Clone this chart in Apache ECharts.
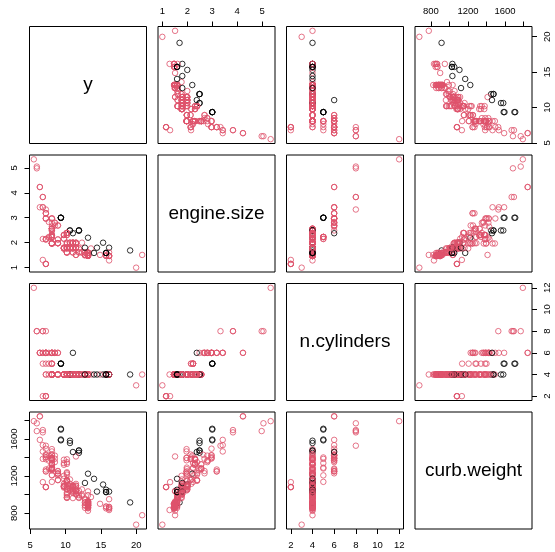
<!DOCTYPE html>
<html>
<head>
<meta charset="utf-8">
<script src="https://cdn.jsdelivr.net/npm/echarts@6/dist/echarts.min.js"></script>
<style>
html, body { margin: 0; padding: 0; background: #fff; }
#chart { width: 555px; height: 552px; }
</style>
</head>
<body>
<div id="chart"></div>
<script>
// variable names shown on the diagonal
const varNames = ['y', 'engine.size', 'n.cylinders', 'curb.weight'];

// y (km per litre)
const y = [
    8.93, 8.93, 8.08, 10.20, 7.65, 8.08, 8.08, 8.08, 7.23, 6.80,
    9.78, 9.78, 8.93, 8.93, 8.50, 6.80, 6.80, 6.38, 19.98, 16.16,
    16.16, 15.73, 13.18, 10.20, 13.18, 13.18, 13.18, 10.20, 10.20, 8.08,
    20.83, 13.18, 16.16, 12.75, 12.75, 12.75, 12.75, 11.48, 11.48, 11.48,
    11.48, 10.20, 10.63, 10.20, 16.16, 16.16, 10.20, 6.38, 6.38, 5.53,
    12.75, 13.18, 13.18, 13.18, 13.18, 7.23, 7.23, 7.23, 6.80, 11.05,
    11.05, 11.05, 11.05, 15.31, 11.05, 8.08, 13.18, 9.35, 9.35, 9.35,
    9.35, 6.80, 6.80, 5.95, 5.95, 8.08, 15.73, 13.18, 13.18, 10.20,
    9.78, 10.63, 8.08, 8.08, 8.08, 10.63, 10.63, 9.78, 9.78, 13.18,
    19.13, 13.18, 13.18, 13.18, 13.18, 13.18, 13.18, 13.18, 13.18, 11.48,
    11.48, 7.23, 7.23, 8.08, 8.08, 7.23, 8.08, 8.08, 11.90, 8.08,
    10.63, 8.08, 11.90, 8.08, 10.63, 8.08, 11.90, 7.65, 15.73, 10.20,
    13.18, 13.18, 13.18, 10.20, 8.08, 8.08, 7.23, 7.23, 7.23, 7.23,
    9.78, 9.78, 8.93, 8.93, 8.93, 8.93, 8.08, 8.08, 13.18, 11.05,
    11.05, 13.60, 11.90, 11.05, 10.20, 10.20, 11.90, 10.63, 9.78, 9.78,
    14.88, 13.18, 13.18, 13.18, 11.48, 11.48, 12.75, 12.75, 14.45, 16.16,
    16.16, 11.90, 11.90, 12.33, 12.33, 11.05, 11.05, 10.20, 10.20, 10.20,
    10.20, 10.20, 10.20, 12.33, 12.75, 11.48, 11.48, 11.48, 8.50, 8.08,
    8.50, 8.08, 15.73, 11.48, 15.73, 11.48, 11.48, 15.73, 11.05, 10.20,
    10.20, 8.08, 14.03, 10.63, 9.78, 9.78, 10.20, 10.20, 7.23, 7.23,
    9.78, 8.08, 7.65, 11.05, 8.08
];

// engine size (litres)
const engineSize = [
    2.13, 2.13, 2.49, 1.79, 2.23, 2.23, 2.23, 2.23, 2.15, 2.15,
    1.77, 1.77, 2.69, 2.69, 2.69, 3.42, 3.42, 3.42, 1.00, 1.47,
    1.47, 1.47, 1.47, 1.61, 1.47, 1.47, 1.47, 1.61, 2.00, 2.56,
    1.51, 1.51, 1.29, 1.51, 1.51, 1.51, 1.51, 1.80, 1.80, 1.80,
    1.80, 1.80, 1.80, 1.82, 1.47, 1.47, 1.95, 4.23, 4.23, 5.34,
    1.49, 1.49, 1.49, 1.49, 1.49, 1.15, 1.15, 1.15, 1.31, 2.00,
    2.00, 2.00, 2.00, 2.00, 2.00, 2.29, 2.20, 3.00, 3.00, 3.00,
    3.00, 3.83, 3.83, 5.05, 4.98, 2.29, 1.51, 1.51, 1.51, 1.61,
    1.80, 2.00, 2.56, 2.56, 2.56, 2.00, 2.00, 1.80, 1.80, 1.59,
    1.69, 1.59, 1.59, 1.59, 1.59, 1.59, 1.59, 1.59, 1.59, 1.97,
    1.97, 2.97, 2.97, 2.97, 2.97, 2.97, 2.97, 1.97, 2.49, 1.97,
    2.49, 1.97, 2.49, 1.97, 2.49, 1.97, 2.49, 2.20, 1.47, 1.61,
    1.47, 1.47, 1.61, 2.00, 2.56, 2.47, 3.18, 3.18, 3.18, 3.33,
    2.16, 2.16, 1.98, 1.98, 1.98, 1.98, 1.98, 1.98, 1.59, 1.77,
    1.77, 1.77, 1.77, 1.77, 1.77, 1.77, 1.77, 1.77, 1.77, 1.77,
    1.51, 1.51, 1.51, 1.51, 1.51, 1.51, 1.61, 1.61, 1.80, 1.80,
    1.61, 1.61, 1.61, 1.61, 1.61, 1.61, 1.61, 2.39, 2.39, 2.39,
    2.39, 2.39, 2.39, 2.00, 1.80, 2.00, 2.00, 2.00, 2.80, 2.80,
    2.80, 2.64, 1.59, 1.79, 1.59, 1.79, 1.79, 1.59, 1.79, 1.79,
    1.79, 2.23, 1.59, 1.79, 2.31, 2.31, 2.31, 2.31, 2.13, 2.13,
    2.31, 2.31, 2.83, 2.38, 2.31
];

const nCylinders = [
    4, 4, 6, 4, 5, 5, 5, 5, 5, 5,
    4, 4, 6, 6, 6, 6, 6, 6, 3, 4,
    4, 4, 4, 4, 4, 4, 4, 4, 4, 4,
    4, 4, 4, 4, 4, 4, 4, 4, 4, 4,
    4, 4, 4, 4, 4, 4, 4, 6, 6, 12,
    4, 4, 4, 4, 4, 2, 2, 2, 2, 4,
    4, 4, 4, 4, 4, 4, 4, 5, 5, 5,
    5, 8, 8, 8, 8, 4, 4, 4, 4, 4,
    4, 4, 4, 4, 4, 4, 4, 4, 4, 4,
    4, 4, 4, 4, 4, 4, 4, 4, 4, 4,
    4, 6, 6, 6, 6, 6, 6, 4, 4, 4,
    4, 4, 4, 4, 4, 4, 4, 4, 4, 4,
    4, 4, 4, 4, 4, 4, 6, 6, 6, 8,
    4, 4, 4, 4, 4, 4, 4, 4, 4, 4,
    4, 4, 4, 4, 4, 4, 4, 4, 4, 4,
    4, 4, 4, 4, 4, 4, 4, 4, 4, 4,
    4, 4, 4, 4, 4, 4, 4, 4, 4, 4,
    4, 4, 4, 4, 4, 4, 4, 4, 6, 6,
    6, 6, 4, 4, 4, 4, 4, 4, 4, 4,
    4, 5, 4, 4, 4, 4, 4, 4, 4, 4,
    4, 4, 6, 6, 4
];

// curb weight (kg)
const curbWeight = [
    1156, 1156, 1280, 1060, 1281, 1137, 1290, 1340, 1400, 1385,
    1086, 1086, 1229, 1254, 1386, 1465, 1533, 1590, 675, 850,
    866, 851, 851, 965, 892, 902, 902, 994, 1150, 1275,
    777, 825, 833, 880, 887, 912, 918, 1014, 1038, 1045,
    1076, 1118, 1040, 1060, 850, 866, 1240, 1844, 1844, 1792,
    857, 862, 864, 882, 885, 1080, 1080, 1082, 1134, 1082,
    1093, 1082, 1093, 1108, 1100, 1211, 1225, 1594, 1701, 1585,
    1710, 1696, 1671, 1769, 1685, 1320, 870, 882, 909, 973,
    1075, 1056, 1285, 1325, 1327, 1073, 1091, 1090, 1090, 857,
    915, 870, 879, 918, 885, 920, 894, 924, 911, 1054,
    1044, 1404, 1495, 1388, 1393, 1424, 1424, 1370, 1450, 1465,
    1556, 1395, 1475, 1490, 1581, 1395, 1475, 1420, 870, 965,
    892, 902, 994, 1150, 1278, 1260, 1250, 1250, 1270, 1527,
    1170, 1116, 1206, 1222, 1228, 1251, 1274, 1291, 930, 962,
    1016, 973, 993, 1061, 1082, 1139, 1039, 1114, 1098, 1202,
    900, 925, 914, 1034, 1039, 1411, 944, 957, 1032, 1032,
    950, 963, 971, 984, 1000, 1027, 1043, 1152, 1150, 1157,
    1215, 1231, 1349, 1055, 1125, 1095, 1095, 1115, 1350, 1368,
    1420, 1429, 1026, 1002, 1027, 1003, 1032, 1052, 1043, 1022,
    1007, 1207, 1170, 1163, 1321, 1376, 1331, 1380, 1381, 1432,
    1339, 1383, 1366, 1459, 1389
];

// 1 = diesel (black), 0 = gas (red)
const diesel = [
    0, 0, 0, 0, 0, 0, 0, 0, 0, 0,
    0, 0, 0, 0, 0, 0, 0, 0, 0, 0,
    0, 0, 0, 0, 0, 0, 0, 0, 0, 0,
    0, 0, 0, 0, 0, 0, 0, 0, 0, 0,
    0, 0, 0, 0, 0, 0, 0, 0, 0, 0,
    0, 0, 0, 0, 0, 0, 0, 0, 0, 0,
    0, 0, 0, 1, 0, 0, 1, 1, 1, 1,
    1, 0, 0, 0, 0, 0, 0, 0, 0, 0,
    0, 0, 0, 0, 0, 0, 0, 0, 0, 0,
    1, 0, 0, 0, 0, 0, 0, 0, 0, 0,
    0, 0, 0, 0, 0, 0, 0, 0, 1, 0,
    1, 0, 1, 0, 1, 0, 1, 0, 0, 0,
    0, 0, 0, 0, 0, 0, 0, 0, 0, 0,
    0, 0, 0, 0, 0, 0, 0, 0, 0, 0,
    0, 0, 0, 0, 0, 0, 0, 0, 0, 0,
    0, 0, 0, 0, 0, 0, 0, 0, 1, 1,
    0, 0, 0, 0, 0, 0, 0, 0, 0, 0,
    0, 0, 0, 0, 1, 0, 0, 0, 0, 0,
    0, 0, 1, 0, 1, 0, 0, 1, 0, 0,
    0, 0, 1, 0, 0, 0, 0, 0, 0, 0,
    0, 0, 0, 1, 0
];

// axis ticks and labels per variable
const tickValues = [[5, 10, 15, 20], [1, 2, 3, 4, 5], [2, 4, 6, 8, 10, 12], [800, 1000, 1200, 1400, 1600, 1800]];
const tickLabels = [[5, 10, 15, 20], [1, 2, 3, 4, 5], [2, 4, 6, 8, 10, 12], [800, 1200, 1600]];

const vars = [y, engineSize, nCylinders, curbWeight];
const colGas = '#DF536B';
const colDiesel = '#000000';

// R style: data range padded by 4% each side
const ranges = vars.map(v => {
    const lo = Math.min(...v), hi = Math.max(...v);
    const pad = (hi - lo) * 0.04;
    return [lo - pad, hi + pad];
});

const left0 = 29.5, top0 = 26.5, panel = 117, step = 128.5;
const font = 'Liberation Sans, Arial, Helvetica, sans-serif';
const plain = v => String(v); // no thousands separator

const grids = [], xAxes = [], yAxes = [], series = [], texts = [];

for (let i = 0; i < 4; i++) {
    for (let j = 0; j < 4; j++) {
        const g = grids.length;
        const left = left0 + j * step;
        const top = top0 + i * step;
        grids.push({
            left: left, top: top, width: panel, height: panel,
            show: true, borderColor: '#000', borderWidth: 1,
            backgroundColor: 'transparent'
        });
        const showX = (i === 0 && j % 2 === 1) || (i === 3 && j % 2 === 0);
        const showY = (j === 0 && i % 2 === 1) || (j === 3 && i % 2 === 0);
        xAxes.push({
            gridIndex: g, type: 'value',
            position: i === 0 ? 'top' : 'bottom',
            min: ranges[j][0], max: ranges[j][1],
            splitLine: { show: false },
            axisLine: { show: false },
            axisTick: {
                show: showX, length: 5,
                lineStyle: { color: '#000', width: 1 },
                customValues: tickValues[j]
            },
            axisLabel: {
                show: showX, margin: i === 0 ? 10 : 11,
                color: '#000', fontSize: 9.5, fontFamily: font,
                formatter: plain,
                customValues: tickLabels[j]
            }
        });
        yAxes.push({
            gridIndex: g, type: 'value',
            position: j === 3 ? 'right' : 'left',
            min: ranges[i][0], max: ranges[i][1],
            splitLine: { show: false },
            axisLine: { show: false },
            axisTick: {
                show: showY, length: 5,
                lineStyle: { color: '#000', width: 1 },
                customValues: tickValues[i]
            },
            axisLabel: {
                show: showY, margin: 10, rotate: 90,
                color: '#000', fontSize: 9.5, fontFamily: font,
                formatter: plain,
                customValues: tickLabels[i]
            }
        });

        if (i === j) {
            texts.push({
                type: 'text',
                x: left + panel / 2,
                y: top + panel / 2,
                silent: true,
                style: {
                    text: varNames[i],
                    fill: '#000',
                    fontSize: 19,
                    fontFamily: font,
                    align: 'center',
                    verticalAlign: 'middle',
                    textAlign: 'center',
                    textVerticalAlign: 'middle'
                }
            });
            continue;
        }

        series.push({
            type: 'scatter',
            xAxisIndex: g,
            yAxisIndex: g,
            symbol: 'circle',
            symbolSize: 5.5,
            silent: true,
            itemStyle: { color: 'rgba(0,0,0,0)', borderWidth: 1 },
            data: vars[j].map((v, k) => ({
                value: [v, vars[i][k]],
                itemStyle: { borderColor: diesel[k] ? colDiesel : colGas }
            }))
        });
    }
}

const chart = echarts.init(document.getElementById('chart'));
chart.setOption({
    backgroundColor: '#fff',
    animation: false,
    grid: grids,
    xAxis: xAxes,
    yAxis: yAxes,
    series: series,
    graphic: texts
});
</script>
</body>
</html>
